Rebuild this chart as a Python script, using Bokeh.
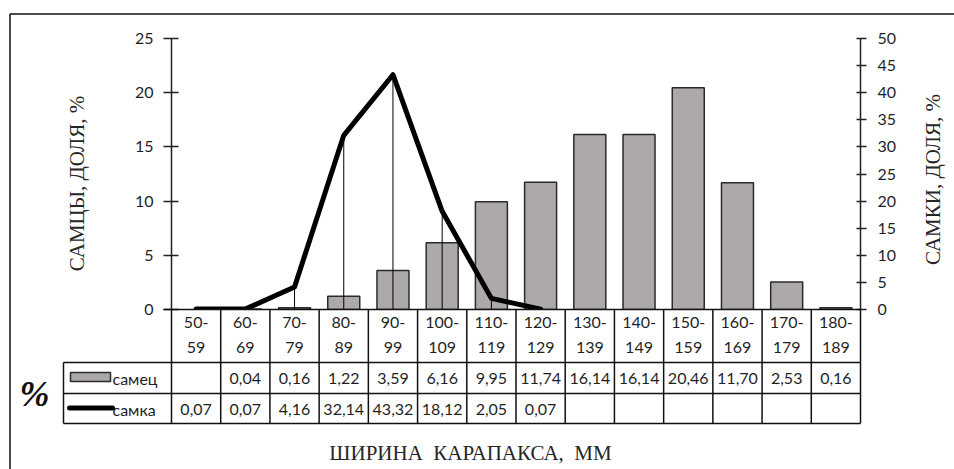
import math
from bokeh.plotting import figure
from bokeh.models import Range1d, LinearAxis, FixedTicker
from bokeh.core.properties import value
from bokeh.embed import file_html
from bokeh.resources import INLINE

# ---------------- data ----------------
categories = ["50-59", "60-69", "70-79", "80-89", "90-99", "100-109", "110-119",
              "120-129", "130-139", "140-149", "150-159", "160-169", "170-179", "180-189"]
male = [None, 0.04, 0.16, 1.22, 3.59, 6.16, 9.95, 11.74, 16.14, 16.14, 20.46, 11.70, 2.53, 0.16]
female = [0.07, 0.07, 4.16, 32.14, 43.32, 18.12, 2.05, 0.07, None, None, None, None, None, None]
left_ticks = [0, 5, 10, 15, 20, 25]
right_ticks = [0, 5, 10, 15, 20, 25, 30, 35, 40, 45, 50]
male_name = "самец"
female_name = "самка"
left_title = "САМЦЫ, ДОЛЯ, %"
right_title = "САМКИ, ДОЛЯ, %"
x_title = "ШИРИНА\u00a0\u00a0КАРАПАКСА,\u00a0\u00a0ММ"

# ---------------- layout helpers ----------------
N = len(categories)
W, H = 954, 469
PL, PR, PT, PB = 171, 860, 38, 309        # frame in page pixels
LMAX, RMAX = 25, 50


def xd(px):
    return (px - PL) / (PR - PL) * N


def yd(py):
    return (PB - py) / (PB - PT) * LMAX


def fmt(v):
    return "" if v is None else f"{v:.2f}".replace(".", ",")


TXT = "#1f1f1f"
SANS = "Lato"
SERIF = "Liberation Serif"
BAR_FILL = "#ada9a8"

p = figure(width=W, height=H, output_backend="svg", toolbar_location=None,
           x_range=Range1d(0, N), y_range=Range1d(0, LMAX),
           x_axis_location=None, y_axis_location="left",
           min_border_left=PL, min_border_right=W - PR,
           min_border_top=PT, min_border_bottom=H - PB)
p.grid.visible = False
p.outline_line_color = None
p.background_fill_color = "white"
p.border_fill_color = "white"

# left axis
ya = p.yaxis[0]
ya.ticker = FixedTicker(ticks=left_ticks)
ya.axis_line_color = "#222222"
ya.axis_line_width = 1.5
ya.major_tick_line_color = "#222222"
ya.major_tick_line_width = 1.5
ya.major_tick_in = 7
ya.major_tick_out = 8
ya.minor_tick_line_color = None
ya.major_label_standoff = 10
ya.major_label_text_font = SANS
ya.major_label_text_font_size = "16px"
ya.major_label_text_color = TXT

# right axis
p.extra_y_ranges = {"f": Range1d(0, RMAX)}
ra = LinearAxis(y_range_name="f", ticker=FixedTicker(ticks=right_ticks))
ra.axis_line_color = "#222222"
ra.axis_line_width = 1.5
ra.major_tick_line_color = "#222222"
ra.major_tick_line_width = 1.5
ra.major_tick_in = 4
ra.major_tick_out = 6
ra.minor_tick_line_color = None
ra.major_label_standoff = 11
ra.major_label_text_font = SANS
ra.major_label_text_font_size = "16px"
ra.major_label_text_color = TXT
p.add_layout(ra, "right")

xs = [i + 0.5 for i in range(N)]
male_top = [float("nan") if v is None else v for v in male]
fem_y = [v for v in female if v is not None]
fem_x = [xs[i] for i, v in enumerate(female) if v is not None]

# bars (male)
p.vbar(x=xs, top=male_top, bottom=0, width=0.65, fill_color=BAR_FILL,
       line_color="#2a2a2a", line_width=1.5)

# drop lines (female)
p.segment(x0=fem_x, y0=[0] * len(fem_x), x1=fem_x, y1=fem_y, y_range_name="f",
          line_color="black", line_width=1)

# female line
p.line(x=fem_x, y=fem_y, y_range_name="f", line_color="black", line_width=5,
       line_join="round", line_cap="round")

# ---------------- table ----------------
T_LEFT = 63
ROW1, ROW2, ROW3 = 362, 393, 423
sx0, sy0, sx1, sy1 = [], [], [], []


def seg(ax, ay, bx, by):
    sx0.append(xd(ax)); sy0.append(yd(ay)); sx1.append(xd(bx)); sy1.append(yd(by))


seg(163, PB, PR, PB)                 # zero line
for r in (ROW1, ROW2, ROW3):
    seg(T_LEFT, r, PR, r)
seg(T_LEFT, ROW1, T_LEFT, ROW3)
for i in range(N + 1):
    seg(PL + (PR - PL) * i / N, PB, PL + (PR - PL) * i / N, ROW3)
# outer border of the chart area
seg(9.5, 13.5, 970, 13.5)
seg(9.5, 13.5, 9.5, 490)
p.segment(x0=sx0, y0=sy0, x1=sx1, y1=sy1, line_color="#111111", line_width=1.5,
          level="overlay")

top_lbl = [c.split("-")[0] + "-" for c in categories]
bot_lbl = [c.split("-")[1] for c in categories]
common = dict(text_font=value(SANS), text_font_size="16px", text_color=TXT,
              text_align="center", text_baseline="middle", level="overlay")
p.text(x=xs, y=[yd(322)] * N, text=top_lbl, **common)
p.text(x=xs, y=[yd(347)] * N, text=bot_lbl, **common)
p.text(x=xs, y=[yd(378)] * N, text=[fmt(v) for v in male], **common)
p.text(x=xs, y=[yd(409)] * N, text=[fmt(v) for v in female], **common)

# legend inside the table
p.quad(left=[xd(70)], right=[xd(110)], top=[yd(372)], bottom=[yd(381)],
       fill_color=BAR_FILL, line_color="#2a2a2a", line_width=1.5, level="overlay")
p.line(x=[xd(69), xd(112)], y=[yd(407.5)] * 2, line_color="black", line_width=5,
       line_cap="round", level="overlay")
lcommon = dict(text_font=value(SANS), text_font_size="16px", text_color=TXT,
               text_align="left", text_baseline="middle", level="overlay")
p.text(x=[xd(112)], y=[yd(378)], text=[male_name], **lcommon)
p.text(x=[xd(112)], y=[yd(409)], text=[female_name], **lcommon)

# ---------------- titles ----------------
tcommon = dict(text_font=value(SERIF), text_color="#262626",
               text_align="center", text_baseline="middle", level="overlay")
p.text(x=[xd(76)], y=[yd(183)], text=[left_title], angle=math.pi / 2,
       text_font_size="21px", **tcommon)
p.text(x=[xd(932)], y=[yd(179)], text=[right_title], angle=math.pi / 2,
       text_font_size="21px", **tcommon)
p.text(x=[xd(470)], y=[yd(452)], text=[x_title], text_font_size="21px", **tcommon)
p.text(x=[xd(34)], y=[yd(393)], text=["%"], text_font=value(SERIF),
       text_font_style="bold italic", text_font_size="36px", text_color="#111111",
       text_align="center", text_baseline="middle", level="overlay")

open("out.html", "w").write(file_html(p, INLINE))
